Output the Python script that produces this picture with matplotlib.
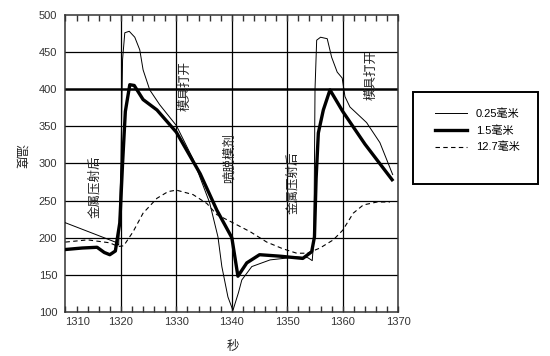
import matplotlib
matplotlib.use("Agg")
import matplotlib.pyplot as plt
from matplotlib.patches import Rectangle
from matplotlib.ticker import MultipleLocator

plt.rcParams['font.family'] = ['Liberation Sans', 'Noto Sans CJK SC', 'DejaVu Sans']

# ---- data ----
thin_x = [1310, 1319, 1319.6, 1320.0, 1320.3, 1320.7, 1321.5, 1322.5, 1323.4, 1324.0, 1325.2, 1327.0,
          1330.0, 1333.0, 1336.0, 1337.5, 1338.2, 1339.3, 1340.2, 1341.2, 1341.8, 1343.6, 1346.9,
          1351.7, 1353.7, 1354.5, 1354.8, 1355.0, 1355.3, 1356.0, 1357.2, 1358.0, 1359.0, 1359.9,
          1360.4, 1361.3, 1364.3, 1366.7, 1369.0]
thin_y = [220, 194, 190, 300, 440, 476, 478, 470, 453, 426, 399, 379,
          351, 306, 247, 201, 161, 120, 102, 126, 143, 161, 170,
          174, 173, 169, 200, 400, 466, 470, 468, 443, 423, 415,
          390, 376, 355, 328, 285]

thick_x = [1310, 1313, 1315.7, 1317.0, 1318.0, 1319.0, 1319.8, 1320.3, 1320.8, 1321.6, 1322.4, 1324.0,
           1326.5, 1330.0, 1334.3, 1337.3, 1340.0, 1341.1, 1342.7, 1345.0, 1348.7, 1352.8, 1354.4,
           1354.9, 1355.2, 1355.6, 1356.5, 1357.7, 1360.0, 1364.0, 1368.9]
thick_y = [184, 186, 187, 180, 177, 182, 220, 300, 370, 406, 405, 386,
           372, 342, 286, 237, 200, 148, 166, 177, 175, 172, 181,
           201, 280, 341, 372, 399, 370, 326, 278]

dash_x = [1310, 1314, 1318, 1319.5, 1320.5, 1322.2, 1324.0, 1326.5, 1328.5, 1330.0, 1333.0,
          1335.5, 1337.3, 1340.2, 1343.3, 1346.3, 1349.2, 1351.7, 1353.6, 1355.9, 1358.3,
          1360.0, 1361.9, 1363.7, 1366.2, 1368.5]
dash_y = [194, 197, 193, 188, 189, 208, 233, 253, 262, 264, 258,
          246, 231, 220, 208, 194, 185, 179, 179, 186, 197,
          210, 233, 244, 248, 248]

series_labels = ['0.25毫米', '1.5毫米', '12.7毫米']

annot_text = ['金属压射后', '模具打开', '喷脱模剂', '金属压射后', '模具打开']
annot_x = [1315.3, 1331.7, 1339.6, 1351.0, 1365.2]
annot_y = [268, 404, 307, 274, 419]

x_ticks = [1310, 1320, 1330, 1340, 1350, 1360, 1370]
y_ticks = [100, 150, 200, 250, 300, 350, 400, 450, 500]

# ---- figure ----
fig = plt.figure(figsize=(5.5, 3.56), dpi=100)
ax = fig.add_axes([0.119, 0.124, 0.605, 0.834])

ax.set_xlim(1310, 1370)
ax.set_ylim(100, 500)
ax.set_xticks(x_ticks)
ax.set_yticks(y_ticks)
ax.xaxis.set_minor_locator(MultipleLocator(2))

for v in x_ticks[1:-1]:
    ax.axvline(v, color='black', lw=0.9, zorder=1)
for v in y_ticks[1:-1]:
    ax.axhline(v, color='black', lw=1.8 if v == 400 else 0.9, zorder=1)

l1, = ax.plot(thin_x, thin_y, color='black', lw=0.7, zorder=3, label=series_labels[0])
l2, = ax.plot(thick_x, thick_y, color='black', lw=2.4, zorder=4, label=series_labels[1])
l3, = ax.plot(dash_x, dash_y, color='black', lw=0.8, ls=(0, (4, 3)), zorder=3, label=series_labels[2])

for s in ax.spines.values():
    s.set_color('#333333')
    s.set_linewidth(1.1)

ax.tick_params(axis='x', which='both', direction='in', top=True, bottom=True,
               labelsize=8, labelcolor='#333333', color='#333333')
ax.tick_params(axis='x', which='major', length=4, width=1)
ax.tick_params(axis='x', which='minor', length=4, width=1)
ax.tick_params(axis='y', which='both', length=0, labelsize=8, labelcolor='#333333', pad=6)
ax.get_xticklabels()[0].set_horizontalalignment('left')

for t, xx, yy in zip(annot_text, annot_x, annot_y):
    ax.text(xx, yy, t, rotation=90, ha='center', va='center', fontsize=9,
            color='#222222', zorder=5)

fig.text(20 / 550, 1 - 157 / 356, '温度', rotation=270, ha='center', va='center',
         fontsize=9, color='#222222')
fig.text(233 / 550, 1 - 347 / 356, '秒', ha='center', va='center',
         fontsize=9, color='#222222')

# legend box
fig.patches.append(Rectangle((413 / 550, 1 - 184 / 356), 125 / 550, 92 / 356,
                             transform=fig.transFigure, fill=False, ec='black', lw=1.4))
fig.legend(handles=[l1, l2, l3], labels=series_labels, loc='upper left',
           bbox_to_anchor=(425 / 550, 1 - 98 / 356), frameon=False, fontsize=8,
           handlelength=2.9, handletextpad=0.8, labelspacing=0.55)

fig.savefig('out.png', dpi=100)
